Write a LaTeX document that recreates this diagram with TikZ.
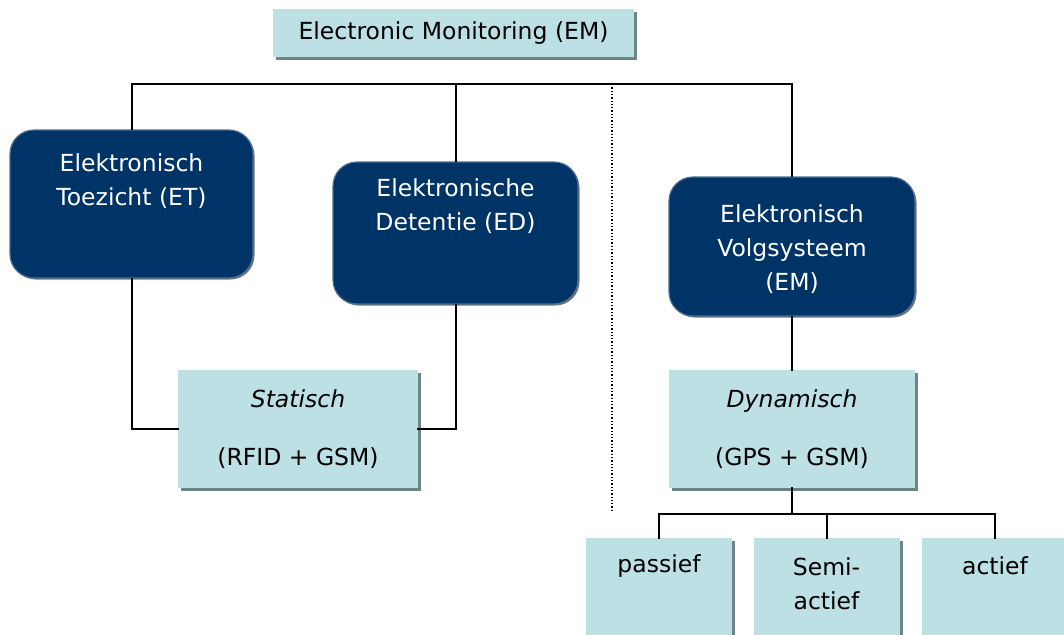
\documentclass[tikz,border=0pt]{standalone}
\usepackage{fontspec}
\setmainfont{DejaVu Sans}
\usetikzlibrary{shadows}
\definecolor{navy}{HTML}{003366}
\definecolor{paleblue}{HTML}{BCE0E3}
\definecolor{shadegray}{HTML}{6B8588}
\begin{document}
\begin{tikzpicture}[x=1pt, y=-1pt, every node/.style={font=\fontsize{23.5}{34}\selectfont, inner sep=0pt},
  lightbox/.style={fill=paleblue, align=center, drop shadow={shadow xshift=3pt, shadow yshift=-3pt, fill=shadegray, opacity=1}},
  darkbox/.style={fill=navy, draw=navy!70!white, line width=1.2pt, rounded corners=24pt, drop shadow={shadow xshift=1.5pt, shadow yshift=-1.5pt, fill=black!55, opacity=1}},
  darktext/.style={text=white, align=center},
  link/.style={line width=2pt, line cap=rect}]
\useasboundingbox (0,0) rectangle (1064,634);
\clip (0,0) rectangle (1064,634);
\node[lightbox, minimum width=361pt, minimum height=48pt] (em) at (453.5,33) {Electronic Monitoring (EM)};
\node[darkbox, minimum width=243pt, minimum height=148pt] (et) at (131.5,204) {};
\node[darktext] (etT) at (131.5,181) {Elektronisch\\Toezicht (ET)};
\node[darkbox, minimum width=245pt, minimum height=142pt] (ed) at (455.5,233) {};
\node[darktext] (edT) at (455.5,206) {Elektronische\\Detentie (ED)};
\node[darkbox, minimum width=246pt, minimum height=139pt] (ev) at (792,246.5) {};
\node[darktext] (evT) at (792,249) {Elektronisch\\Volgsysteem\\(EM)};
\node[lightbox, minimum width=240pt, minimum height=118pt] (stat) at (298,429) {\textit{Statisch}\\[24pt](RFID + GSM)};
\node[lightbox, minimum width=246pt, minimum height=118pt] (dyn) at (792,429) {\textit{Dynamisch}\\[24pt](GPS + GSM)};
\node[lightbox, minimum width=146pt, minimum height=120pt] (pas) at (659,598) {};
\node (pasT) at (659,566) {passief};
\node[lightbox, minimum width=146pt, minimum height=120pt] (semi) at (826.5,598) {};
\node[align=center] (semiT) at (826.5,584) {Semi-\\actief};
\node[lightbox, minimum width=146pt, minimum height=120pt] (act) at (995,598) {};
\node (actT) at (995,566) {actief};
\coordinate (rail) at (453,84);
\draw[link] (et.north) |- (rail) -| (ev.north); \draw[link] (ed.north) -- (ed.north |- rail);
\draw[link] (et.south) |- (stat.west); \draw[link] (ed.south) |- (stat.east);
\draw[link] (ev.south) -- (dyn.north);
\coordinate (fork) at (792,514);
\draw[link] (dyn.south) -- (fork); \draw[link] (pas.north) |- (fork) -| (act.north); \draw[link] (semi.north) -- (semi.north |- fork);
\coordinate (sepA) at (612,84); \coordinate (sepB) at (612,512);
\draw[dotted, line width=1.3pt] (sepA) -- (sepB);
\end{tikzpicture}
\end{document}
